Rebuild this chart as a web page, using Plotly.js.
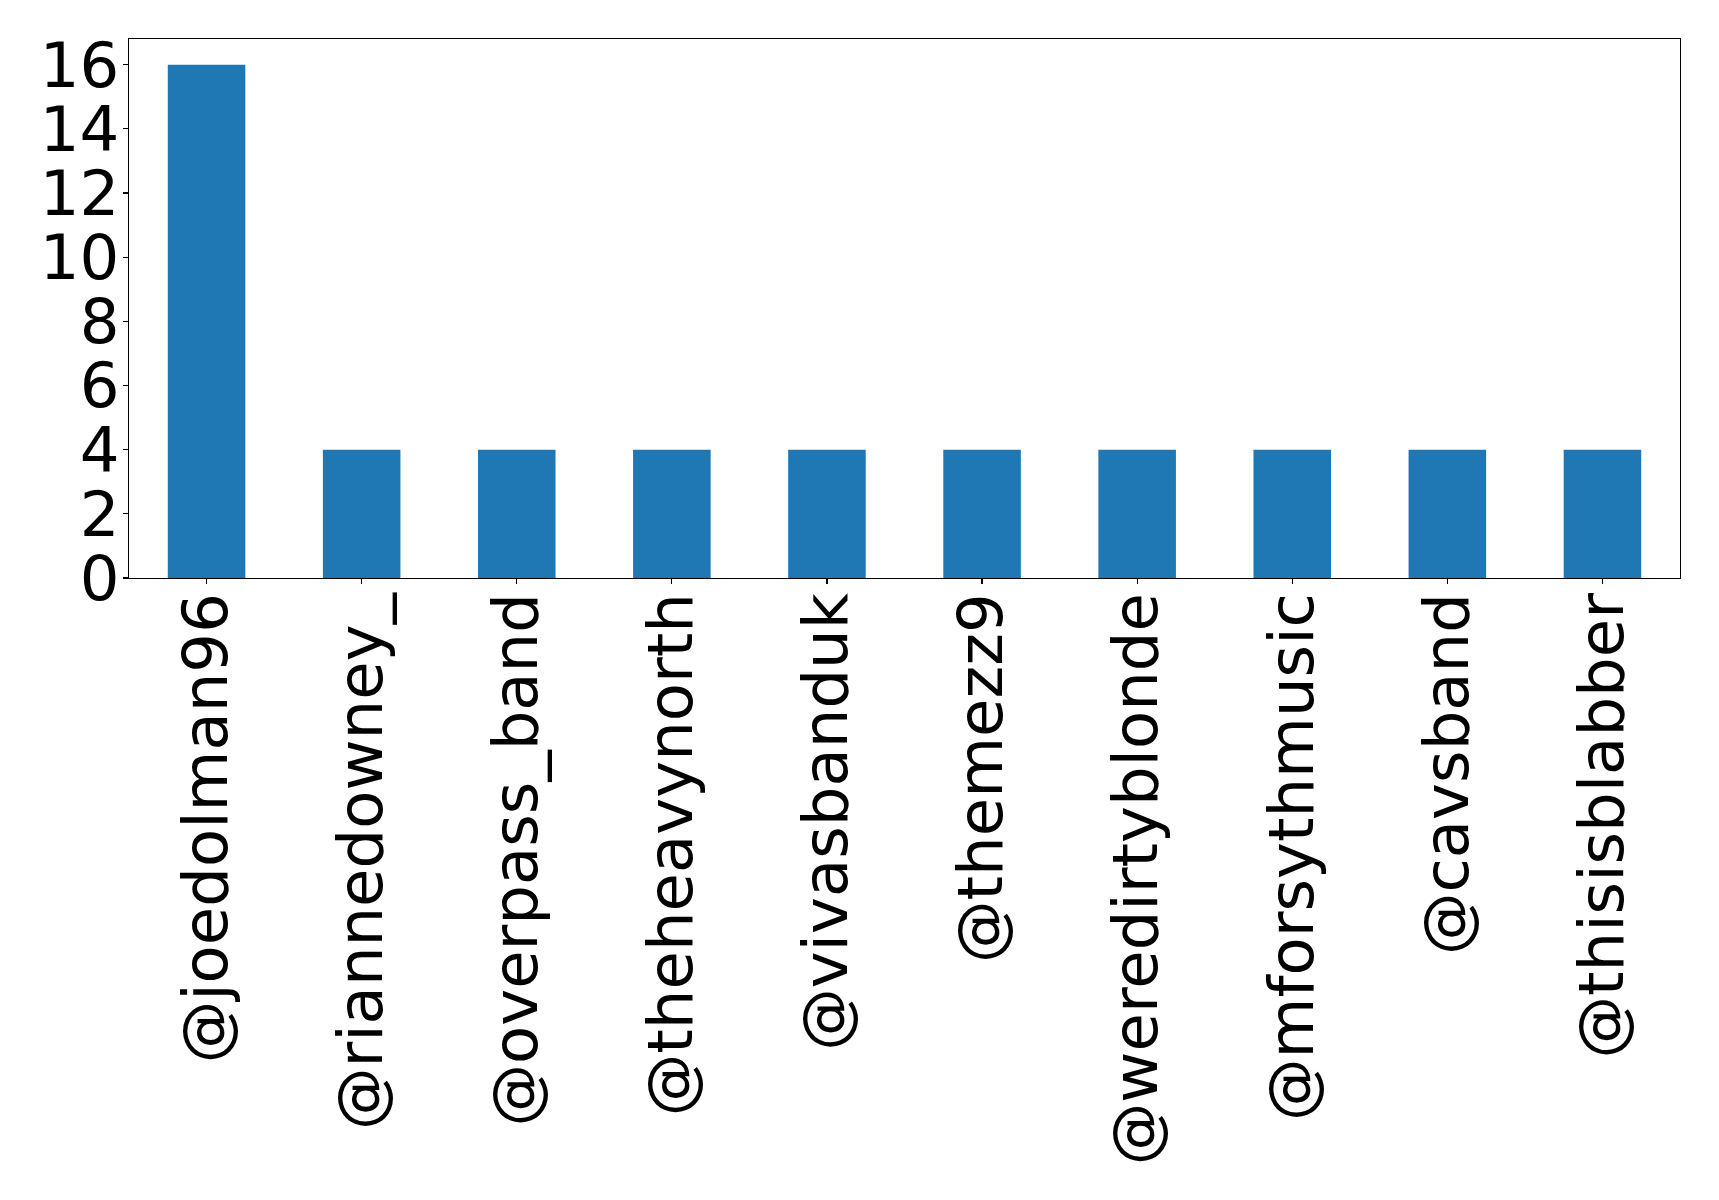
<!DOCTYPE html>
<html>
<head>
<meta charset="utf-8">
<script src="https://cdn.plot.ly/plotly-3.0.1.min.js"></script>
<style>html,body{margin:0;padding:0;background:#fff;}</style>
</head>
<body>
<div id="chart" style="width:1719px;height:1200px;"></div>
<script>
const handles = ["@joedolman96", "@riannedowney_", "@overpass_band", "@theheavynorth", "@vivasbanduk", "@themezz9", "@weredirtyblonde", "@mforsythmusic", "@cavsband", "@thisisblabber"];
const counts = [16, 4, 4, 4, 4, 4, 4, 4, 4, 4];
const yTicks = [0, 2, 4, 6, 8, 10, 12, 14, 16];

const font = {family: "DejaVu Sans", size: 62.5, color: "#000"};
const data = [{
  type: "bar",
  x: handles,
  y: counts,
  marker: {color: "#1f77b4", line: {width: 0}},
  hoverinfo: "skip"
}];
const layout = {
  width: 1719, height: 1200,
  margin: {l: 129, r: 39, t: 39, b: 622, autoexpand: false},
  paper_bgcolor: "#fff", plot_bgcolor: "#fff",
  bargap: 0.5,
  showlegend: false,
  font: font,
  xaxis: {
    type: "category",
    range: [-0.5, 9.5],
    tickangle: -90,
    ticks: "outside", ticklen: 5, tickwidth: 1.1, tickcolor: "#000",
    ticklabelstandoff: -16,
    showline: true, linecolor: "#000", linewidth: 1.1, mirror: true,
    showgrid: false, zeroline: false,
    tickfont: font
  },
  yaxis: {
    range: [0, 16.8],
    tickvals: yTicks,
    ticktext: yTicks.map(String),
    ticks: "outside", ticklen: 5, tickwidth: 1.1, tickcolor: "#000",
    ticklabelstandoff: -9,
    showline: true, linecolor: "#000", linewidth: 1.1, mirror: true,
    showgrid: false, zeroline: false,
    tickfont: font
  }
};
Plotly.newPlot("chart", data, layout, {staticPlot: true, displayModeBar: false});
</script>
</body>
</html>
